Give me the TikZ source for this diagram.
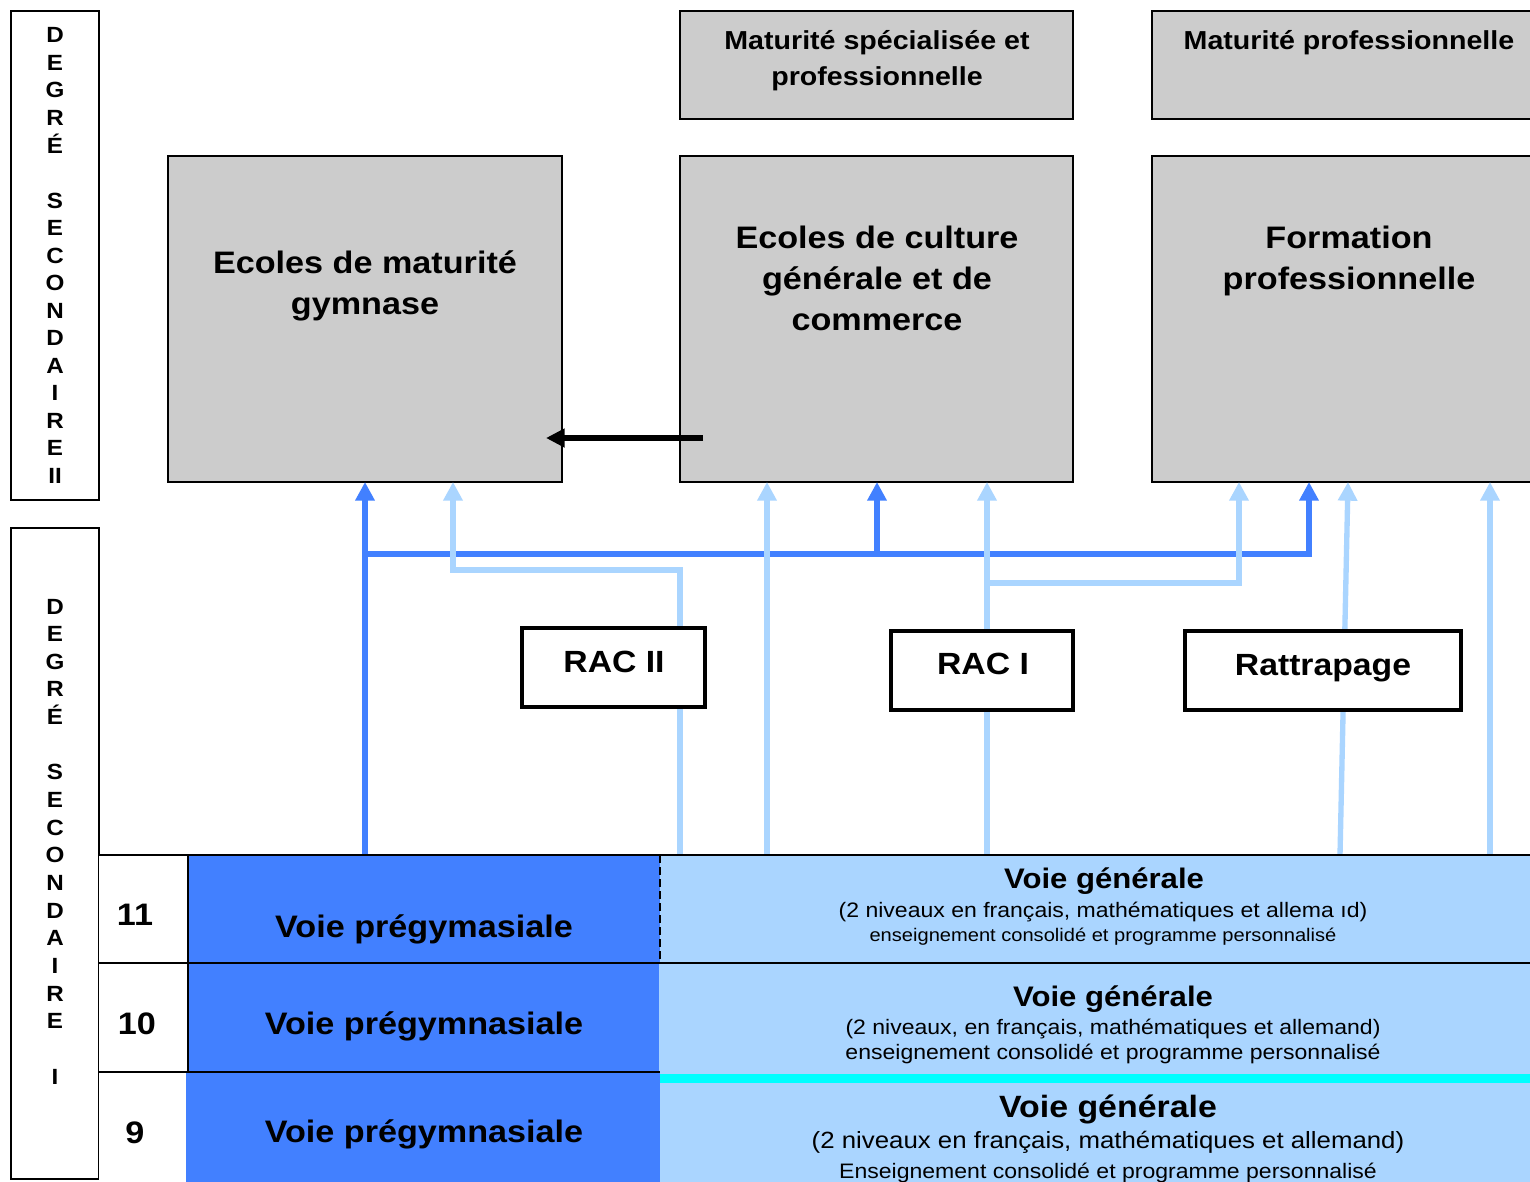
\documentclass[tikz,border=0pt]{standalone}
\usepackage{fontspec}
\setmainfont{Liberation Sans}[FakeStretch=1.1]
\usetikzlibrary{arrows.meta}
\definecolor{gboxc}{RGB}{204,204,204}
\definecolor{dblue}{RGB}{66,128,255}
\definecolor{lblue}{RGB}{170,213,255}
\definecolor{cyanband}{RGB}{0,255,255}
\newcommand\myfs[1]{\fontsize{#1}{1.2\dimexpr#1\relax}\selectfont}
\newcommand\pbox[6]{\node[#2, minimum width={(#5-#3)*0.75pt}, minimum height={(#6-#4)*0.75pt}] (#1) at ({(#3+#5)/2},{(#4+#6)/2}) {};}
\tikzset{
  grey/.style={draw=black, line width=1.5pt, fill=gboxc, inner sep=0pt, outer sep=0pt},
  frame/.style={draw=black, line width=1.5pt, inner sep=0pt, outer sep=0pt},
  racbox/.style={draw=black, line width=2.6pt, fill=white, inner sep=0pt, outer sep=0pt},
  cellw/.style={fill=white, inner sep=0pt, outer sep=0pt},
  celld/.style={fill=dblue, inner sep=0pt, outer sep=0pt},
  celll/.style={fill=lblue, inner sep=0pt, outer sep=0pt},
  cellc/.style={fill=cyanband, inner sep=0pt, outer sep=0pt},
  txt/.style={anchor=base, inner sep=0pt, outer sep=0pt},
  vl/.style={txt, font=\bfseries\myfs{16.5pt}},
  mattxt/.style={txt, font=\bfseries\myfs{19.5pt}},
  bigtxt/.style={txt, font=\bfseries\myfs{23.3pt}},
  ractxt/.style={txt, font=\bfseries\myfs{23pt}},
  grid/.style={draw=black, line width=1.5pt},
  dk/.style={draw=dblue, line width=4.5pt, -{Triangle[width=14pt,length=14pt]}},
  lb/.style={draw=lblue, line width=4pt, -{Triangle[width=14pt,length=14pt]}},
  blk/.style={draw=black, line width=5pt, -{Triangle[width=13.5pt,length=14pt]}},
}
\begin{document}
\begin{tikzpicture}[x=0.75pt, y=-0.75pt]
\useasboundingbox (0,0) rectangle (1530,1181);
\fill[white] (0,0) rectangle (1530,1181);

% degree frames
\pbox{degII}{frame}{11}{11}{99}{500}
\pbox{degI}{frame}{11}{528}{99}{1179}
\foreach \ch/\k [count=\i] in {D/0,E/1,G/2,R/3,É/4,S/6,E/7,C/8,O/9,N/10,D/11,A/12,I/13,R/14,E/15,II/16}
  \node[vl] (u\i) at (55,{43+27.5*\k}) {\ch};
\foreach \ch/\k [count=\i] in {D/0,E/1,G/2,R/3,É/4,S/6,E/7,C/8,O/9,N/10,D/11,A/12,I/13,R/14,E/15,I/17}
  \node[vl] (w\i) at (55,{614+27.65*\k}) {\ch};

% table cells
\pbox{n11}{cellw}{99}{855}{188}{963}
\pbox{n10}{cellw}{99}{963}{188}{1072}
\pbox{n9}{cellw}{99}{1072}{188}{1181}
\pbox{pg11}{celld}{188}{855}{660}{963}
\pbox{pg10}{celld}{188}{963}{659}{1072}
\pbox{pg9}{celld}{186}{1072}{660}{1185}
\pbox{vg11}{celll}{660}{855}{1545}{963}
\pbox{vg10}{celll}{659}{963}{1545}{1072}
\pbox{vg9}{celll}{660}{1072}{1545}{1185}
\pbox{band}{cellc}{660}{1074}{1545}{1083}

% grey boxes
\pbox{matspe}{grey}{680}{11}{1073}{119}
\pbox{matpro}{grey}{1152}{11}{1545}{119}
\pbox{gym}{grey}{168}{156}{562}{482}
\pbox{cult}{grey}{680}{156}{1073}{482}
\pbox{form}{grey}{1152}{156}{1545}{482}

% x positions of connectors
\coordinate (xa) at (365,0);
\coordinate (xb) at (877,0);
\coordinate (xc) at (1309,0);
\coordinate (xd) at (453,0);
\coordinate (xe) at (680,0);
\coordinate (xf) at (767,0);
\coordinate (xg) at (987,0);
\coordinate (xh) at (1239,0);
\coordinate (xi) at (1340,0);
\coordinate (xj) at (1348,0);
\coordinate (xk) at (1490,0);
\coordinate (ya) at (0,554);
\coordinate (yb) at (0,570);
\coordinate (yc) at (0,583);

% dark blue connectors
\draw[dk] (xa |- pg11.north) -- (xa |- gym.south);
\draw[dk] (xa |- ya) -| (xc |- form.south);
\draw[dk] (xb |- ya) -- (xb |- cult.south);

% light blue connectors
\draw[lb] (xe |- vg11.north) |- (xd |- yb) -- (xd |- gym.south);
\draw[lb] (xf |- vg11.north) -- (xf |- cult.south);
\draw[lb] (xg |- vg11.north) -- (xg |- cult.south);
\draw[lb] (xg |- yc) -| (xh |- form.south);
\draw[lb] (xi |- vg11.north) -- (xj |- form.south);
\draw[lb] (xk |- vg11.north) -- (xk |- form.south);

% grid lines
\draw[grid] (n11.north west) -- (vg11.north east);
\draw[grid] (n10.north west) -- (vg10.north east);
\draw[grid] (n9.north west) -- (pg9.north east);
\draw[grid] (n11.north east) -- (n10.south east);
\draw[draw=black, line width=1.5pt, dash pattern=on 6pt off 3pt] (pg11.north east) -- (pg11.south east);

% RAC boxes
\pbox{rac2}{racbox}{522}{628}{705}{707}
\pbox{rac1}{racbox}{891}{631}{1073}{710}
\pbox{ratt}{racbox}{1185}{631}{1461}{710}

% black arrow
\coordinate (bs) at (703,438);
\coordinate (be) at (546,438);
\draw[blk] (bs) -- (be);

% texts
\node[mattxt] (tm1) at (877,50) {Maturité spécialisée et};
\node[mattxt] (tm2) at (877,85) {professionnelle};
\node[mattxt] (tm3) at (1349,50) {Maturité professionnelle};
\node[bigtxt] (tg1) at (365,273) {Ecoles de maturité};
\node[bigtxt] (tg2) at (365,314) {gymnase};
\node[bigtxt] (tc1) at (877,248) {Ecoles de culture};
\node[bigtxt] (tc2) at (877,289) {générale et de};
\node[bigtxt] (tc3) at (877,330) {commerce};
\node[bigtxt] (tf1) at (1349,248) {Formation};
\node[bigtxt] (tf2) at (1349,289) {professionnelle};
\node[ractxt] (tr2) at (614,672) {RAC II};
\node[ractxt] (tr1) at (983,674) {RAC I};
\node[ractxt] (trt) at (1323,675) {Rattrapage};

\node[bigtxt] (t11) at (135,925) {11};
\node[bigtxt] (t10) at (137,1034) {10};
\node[bigtxt] (t9) at (135,1143) {9};
\node[bigtxt] (tp11) at (424,937) {Voie prégymasiale};
\node[bigtxt] (tp10) at (424,1034) {Voie prégymnasiale};
\node[bigtxt] (tp9) at (424,1142) {Voie prégymnasiale};

\node[txt, font=\bfseries\myfs{21.2pt}] (g11a) at (1104,888) {Voie générale};
\node[txt, font=\myfs{15.7pt}] (g11b) at (1103,917) {(2 niveaux en français, mathématiques et allema ıd)};
\node[txt, font=\myfs{13.7pt}] (g11c) at (1103,941) {enseignement consolidé et programme personnalisé};
\node[txt, font=\bfseries\myfs{21.2pt}] (g10a) at (1113,1006) {Voie générale};
\node[txt, font=\myfs{15.7pt}] (g10b) at (1113,1034) {(2 niveaux, en français, mathématiques et allemand)};
\node[txt, font=\myfs{15.7pt}] (g10c) at (1113,1059) {enseignement consolidé et programme personnalisé};
\node[txt, font=\bfseries\myfs{23.1pt}] (g9a) at (1108,1117) {Voie générale};
\node[txt, font=\myfs{17.6pt}] (g9b) at (1108,1148) {(2 niveaux en français, mathématiques et allemand)};
\node[txt, font=\myfs{15.7pt}] (g9c) at (1108,1178) {Enseignement consolidé et programme personnalisé};
\end{tikzpicture}
\end{document}
